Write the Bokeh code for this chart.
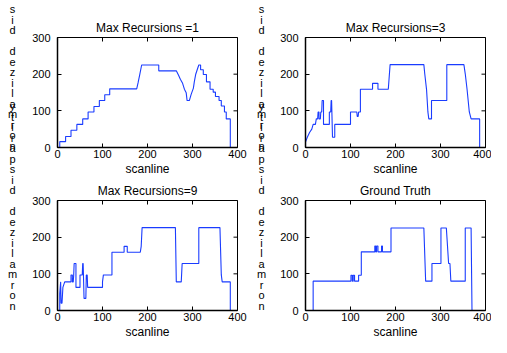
import math
from bokeh.plotting import figure
from bokeh.layouts import column, row
from bokeh.models import FixedTicker, Range1d
from bokeh.core.properties import value
from bokeh.embed import file_html
from bokeh.resources import INLINE

titles = ["Max Recursions =1", "Max Recursions=3", "Max Recursions=9", "Ground Truth"]
x_ticks = [0, 100, 200, 300, 400]
y_ticks = [0, 100, 200, 300]
x_label = "scanline"
y_label = "normalized disparity"

rec1_pts = [(0, 0), (5, 0), (5, 16), (18, 16), (18, 30), (30, 30), (30, 47), (43, 47), (43, 63),
            (56, 63), (56, 78), (68, 78), (68, 97), (81, 97), (81, 112), (93, 112), (93, 128),
            (105, 128), (105, 144), (116, 144), (116, 160), (176, 160), (179, 176), (183, 200),
            (187, 225), (225, 225), (225, 209), (264, 209), (269, 197), (273, 186), (278, 175),
            (282, 159), (286, 149), (288, 128), (293, 128), (297, 145), (302, 162), (304, 179),
            (307, 199), (311, 214), (314, 225), (318, 225), (318, 212), (324, 212), (324, 199),
            (331, 199), (331, 179), (339, 179), (339, 159), (346, 159), (346, 151), (351, 151),
            (351, 139), (359, 139), (359, 128), (364, 128), (364, 113), (371, 113), (371, 97),
            (375, 97), (375, 78), (384, 78), (384, 0)]

rec3_pts = [(0, 0), (0, 15), (4, 28), (9, 41), (14, 50), (17, 63), (22, 63), (24, 78), (27, 78),
            (28, 97), (30, 97), (30, 78), (33, 78), (34, 97), (36, 97), (37, 128), (40, 128),
            (40, 63), (53, 63), (53, 97), (56, 97), (57, 128), (58, 128), (60, 28), (65, 28),
            (65, 63), (100, 63), (100, 97), (114, 97), (115, 85), (117, 85), (118, 97), (122, 97),
            (122, 159), (149, 159), (149, 175), (161, 175), (161, 159), (184, 159), (188, 226),
            (263, 226), (265, 201), (269, 158), (272, 97), (274, 78), (280, 78), (280, 128),
            (314, 128), (314, 226), (352, 226), (355, 201), (359, 159), (364, 97), (368, 78),
            (387, 78), (387, 0)]

rec9_pts = [(0, 0), (5, 0), (5, 46), (7, 78), (8, 20), (10, 20), (12, 63), (16, 78), (30, 78),
            (30, 97), (33, 97), (33, 78), (35, 78), (36, 97), (37, 128), (41, 128), (41, 63),
            (50, 63), (50, 97), (55, 97), (56, 128), (57, 128), (59, 33), (63, 33), (64, 97),
            (66, 97), (67, 63), (100, 63), (100, 78), (102, 97), (121, 97), (121, 159), (148, 159),
            (148, 175), (155, 175), (155, 159), (184, 159), (186, 175), (188, 226), (262, 226),
            (264, 78), (275, 78), (277, 128), (314, 128), (314, 226), (361, 226), (364, 97),
            (366, 78), (384, 78), (384, 0)]

truth_pts = [(0, 0), (17, 0), (17, 80), (101, 80), (101, 96), (104, 96), (104, 80), (106, 80),
             (106, 96), (109, 96), (109, 80), (118, 80), (118, 96), (124, 96), (124, 160),
             (154, 160), (154, 176), (156, 176), (156, 160), (158, 160), (158, 176), (161, 176),
             (161, 160), (169, 160), (169, 176), (171, 176), (171, 160), (190, 160), (190, 225),
             (263, 225), (267, 80), (281, 80), (281, 128), (301, 128), (301, 225), (313, 225),
             (318, 128), (321, 128), (323, 80), (355, 80), (355, 225), (368, 225), (370, 0),
             (390, 0)]

series = [rec1_pts, rec3_pts, rec9_pts, truth_pts]

FONT = "Liberation Sans"
LINE = "#1a3cff"

# ---- layout (pixels) ----
FW, FH = 180, 110
col_borders = [(37, 16), (33, 6)]       # left/right border of left and right column panels
row_borders = [(37, 30), (20, 30)]       # top/bottom border of top and bottom row panels
strip_w = [20, 19]
char_cx = [12, 8]                        # letter centre inside each strip
char_step = 10.5
row_h = [b[0] + FH + b[1] for b in row_borders]
total_h = sum(row_h)


def make_panel(r, c):
    idx = r * 2 + c
    bl, br = col_borders[c]
    bt, bb = row_borders[r]
    p = figure(frame_width=FW, frame_height=FH, x_range=Range1d(0, 400), y_range=Range1d(0, 300),
               output_backend="svg", toolbar_location=None,
               min_border_left=bl, min_border_right=br, min_border_top=bt, min_border_bottom=bb)
    p.background_fill_color = "white"
    p.border_fill_color = "white"
    p.outline_line_color = "black"
    p.outline_line_width = 1
    p.grid.visible = False

    p.title.text = titles[idx]
    p.title.align = "center"
    p.title.text_font = FONT
    p.title.text_font_size = "12px"
    p.title.text_font_style = "normal"
    p.title.text_color = "black"
    p.title.standoff = 6

    for ax, ticks in ((p.xaxis, x_ticks), (p.yaxis, y_ticks)):
        ax.ticker = FixedTicker(ticks=ticks)
        ax.major_tick_in = 4
        ax.major_tick_out = 0
        ax.minor_tick_line_color = None
        ax.axis_line_width = 1.5
        ax.axis_line_color = "black"
        ax.major_tick_line_color = "black"
        ax.major_label_text_font = FONT
        ax.major_label_text_font_size = "11px"
        ax.major_label_text_color = "black"
    p.xaxis.major_label_standoff = 2
    p.yaxis.major_label_standoff = 7
    p.xaxis.axis_label = x_label
    p.xaxis.axis_label_standoff = 1
    p.xaxis.axis_label_text_font = FONT
    p.xaxis.axis_label_text_font_size = "12px"
    p.xaxis.axis_label_text_font_style = "normal"
    p.xaxis.axis_label_text_color = "black"

    # inward ticks on the top and right edges of the box (half of each dash is clipped by the frame)
    p.scatter(x=x_ticks, y=[300] * len(x_ticks), marker="dash", size=8, angle=math.pi / 2,
              line_color="black", line_width=1)
    p.scatter(x=[400] * len(y_ticks), y=y_ticks, marker="dash", size=8,
              line_color="black", line_width=1)

    xs, ys = zip(*series[idx])
    p.line(list(xs), list(ys), line_color=LINE, line_width=1.1)
    return p


def make_strip(c):
    # stacked, upright letters of the y label for both panels of a column
    p = figure(width=strip_w[c], height=total_h, x_range=Range1d(0, strip_w[c]),
               y_range=Range1d(total_h, 0), output_backend="svg", toolbar_location=None,
               min_border=0)
    p.axis.visible = False
    p.grid.visible = False
    p.outline_line_color = None
    p.background_fill_color = "white"
    p.border_fill_color = "white"
    tx, ty, tt = [], [], []
    y0 = 0
    for r in range(2):
        bt, bb = row_borders[r]
        first = y0 + bt + FH - 2          # first letter sits at the foot of the panel
        for i, ch in enumerate(y_label):
            yy = first - char_step * i
            if ch == " " or yy < 8:
                continue
            tx.append(char_cx[c])
            ty.append(yy)
            tt.append(ch)
        y0 += row_h[r]
    p.text(x=tx, y=ty, text=tt, text_align="center", text_baseline="middle",
           text_font=value(FONT), text_font_size=value("11px"), text_color="black")
    return p


panels = [[make_panel(r, c) for c in range(2)] for r in range(2)]
layout = row(make_strip(0), column(panels[0][0], panels[1][0]),
             make_strip(1), column(panels[0][1], panels[1][1]))
open("out.html", "w").write(file_html(layout, INLINE))
